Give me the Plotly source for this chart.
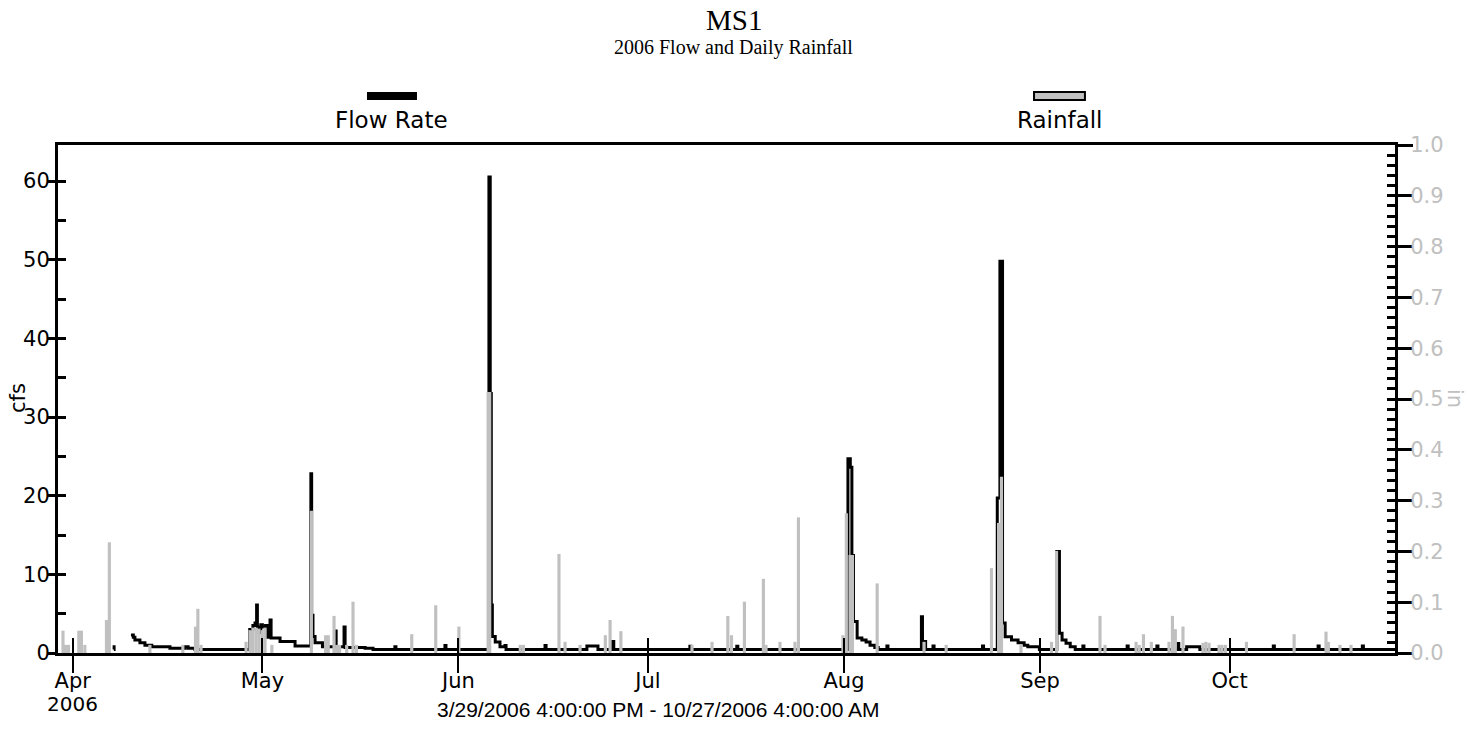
import plotly.graph_objects as go

# ---------------- data ----------------
flow_time = [
    "2006-04-07 12:00", "2006-04-07 13:00", "2006-04-07 15:00",
    "2006-04-10 05:00", "2006-04-10 14:00", "2006-04-10 20:00", "2006-04-11 15:00",
    "2006-04-12 10:00", "2006-04-13 12:00", "2006-04-16 09:00", "2006-04-18 18:00",
    "2006-04-19 06:00", "2006-04-20 08:00",
    "2006-04-29 00:00", "2006-04-29 12:00", "2006-04-29 20:00", "2006-04-30 02:00",
    "2006-04-30 05:00", "2006-04-30 12:00", "2006-04-30 18:00", "2006-05-01 00:00",
    "2006-05-01 12:00", "2006-05-01 20:00", "2006-05-02 05:00", "2006-05-02 09:00",
    "2006-05-03 19:00", "2006-05-06 04:00",
    "2006-05-08 16:00", "2006-05-08 19:00", "2006-05-09 00:00", "2006-05-09 08:00",
    "2006-05-10 12:00", "2006-05-12 12:00", "2006-05-12 16:00", "2006-05-13 22:00",
    "2006-05-14 02:00", "2006-05-17 06:00", "2006-05-18 12:00",
    "2006-05-21 23:00", "2006-05-22 03:00", "2006-05-29 21:00", "2006-05-30 01:00",
    "2006-06-05 20:00", "2006-06-06 01:00", "2006-06-06 05:00", "2006-06-06 09:00",
    "2006-06-06 20:00", "2006-06-07 14:00", "2006-06-08 09:00", "2006-06-08 13:00",
    "2006-06-14 17:00", "2006-06-14 21:00", "2006-06-21 08:00", "2006-06-23 02:00",
    "2006-06-25 07:00", "2006-06-25 14:00",
    "2006-07-07 15:00", "2006-07-07 19:00", "2006-07-15 01:00", "2006-07-15 05:00",
    "2006-08-01 15:00", "2006-08-02 00:00", "2006-08-02 06:00", "2006-08-02 12:00",
    "2006-08-03 02:00", "2006-08-03 20:00", "2006-08-04 12:00", "2006-08-05 03:00",
    "2006-08-05 21:00", "2006-08-06 10:00",
    "2006-08-07 19:00", "2006-08-07 23:00",
    "2006-08-13 06:00", "2006-08-13 10:00", "2006-08-13 22:00",
    "2006-08-15 02:00", "2006-08-15 06:00", "2006-08-22 22:00", "2006-08-23 02:00",
    "2006-08-25 06:00", "2006-08-25 16:00", "2006-08-26 02:00", "2006-08-26 12:00",
    "2006-08-27 12:00", "2006-08-28 13:00", "2006-08-29 12:00", "2006-08-30 02:00",
    "2006-08-31 22:00",
    "2006-09-03 16:00", "2006-09-04 02:00", "2006-09-04 12:00", "2006-09-05 03:00",
    "2006-09-05 19:00", "2006-09-06 14:00",
    "2006-09-07 19:00", "2006-09-07 23:00", "2006-09-14 19:00", "2006-09-14 23:00",
    "2006-09-19 12:00", "2006-09-19 16:00", "2006-09-22 19:00", "2006-09-22 23:00",
    "2006-09-24 05:00", "2006-09-26 07:00",
    "2006-10-07 22:00", "2006-10-08 02:00", "2006-10-15 00:00", "2006-10-15 04:00",
    "2006-10-22 00:00", "2006-10-22 04:00", "2006-10-27 04:00",
]
flow_cfs = [
    0.45, 1.0, None,
    2.3, 2.0, 1.65, 1.3,
    1.0, 0.8, 0.6, 0.8,
    0.6, 0.45,
    3.0, 3.5, 3.8, 6.1,
    3.3, 2.6, 3.6, 3.3,
    3.5, 2.0, 4.2, 1.9,
    1.45, 0.9,
    22.8, 4.8, 2.1, 1.3,
    0.8, 2.8, 0.8, 3.3,
    0.7, 0.6, 0.45,
    0.8, 0.45, 0.95, 0.45,
    60.5, 33.0, 6.1, 2.1,
    1.4, 0.8, 0.95, 0.45,
    0.95, 0.45, 0.9, 0.45,
    1.45, 0.45,
    0.85, 0.45, 0.85, 0.45,
    24.7, 23.6, 12.4, 4.0,
    1.9, 1.65, 1.4, 1.0,
    0.7, 0.45,
    0.9, 0.45,
    4.6, 1.45, 0.45,
    0.9, 0.45, 0.9, 0.45,
    19.7, 49.8, 3.8, 2.07,
    1.65, 1.3, 1.0, 0.8,
    0.45,
    12.9, 2.5, 1.65, 1.25,
    0.8, 0.45,
    0.9, 0.45, 0.9, 0.45,
    0.9, 0.45, 1.2, 0.45,
    0.8, 0.45,
    0.9, 0.45, 0.9, 0.45,
    0.9, 0.45, 0.45,
]

rain_time = [
    "2006-03-30 11:00", "2006-03-30 20:00", "2006-03-31 08:00",
    "2006-04-01 23:00", "2006-04-02 09:00", "2006-04-02 22:00",
    "2006-04-06 08:00", "2006-04-06 19:00", "2006-04-13 05:00", "2006-04-18 10:00",
    "2006-04-20 10:00", "2006-04-20 19:00", "2006-04-21 07:00",
    "2006-04-28 10:00", "2006-04-29 01:00", "2006-04-29 12:00", "2006-04-30 00:00",
    "2006-04-30 11:00", "2006-04-30 23:00", "2006-05-01 10:00", "2006-05-02 12:00",
    "2006-05-08 18:00", "2006-05-11 00:00", "2006-05-11 10:00", "2006-05-12 08:00",
    "2006-05-12 18:00", "2006-05-13 05:00", "2006-05-14 08:00", "2006-05-15 08:00",
    "2006-05-15 21:00", "2006-05-24 15:00", "2006-05-28 10:00", "2006-06-01 02:00",
    "2006-06-05 17:00", "2006-06-05 23:00", "2006-06-10 19:00", "2006-06-11 07:00",
    "2006-06-16 22:00", "2006-06-17 21:00", "2006-06-20 06:00", "2006-06-24 06:00",
    "2006-06-25 00:00", "2006-06-26 17:00",
    "2006-07-07 23:00", "2006-07-11 03:00", "2006-07-13 15:00", "2006-07-14 05:00",
    "2006-07-16 06:00", "2006-07-19 06:00", "2006-07-19 16:00", "2006-07-21 21:00",
    "2006-07-24 06:00", "2006-07-24 19:00", "2006-07-31 20:00", "2006-08-01 09:00",
    "2006-08-01 23:00", "2006-08-02 08:00", "2006-08-06 06:00", "2006-08-13 16:00",
    "2006-08-17 04:00", "2006-08-24 08:00", "2006-08-25 11:00", "2006-08-25 22:00",
    "2006-08-29 00:00", "2006-09-02 20:00", "2006-09-03 15:00", "2006-09-10 12:00",
    "2006-09-11 07:00", "2006-09-16 05:00", "2006-09-16 17:00", "2006-09-17 09:00",
    "2006-09-18 15:00", "2006-09-21 10:00", "2006-09-21 23:00", "2006-09-22 10:00",
    "2006-09-23 15:00", "2006-09-26 19:00", "2006-09-27 06:00", "2006-09-27 18:00",
    "2006-09-29 08:00", "2006-09-29 19:00", "2006-09-30 08:00", "2006-10-03 16:00",
    "2006-10-11 05:00", "2006-10-16 06:00", "2006-10-16 15:00", "2006-10-18 11:00",
    "2006-10-20 05:00",
]
rain_in = [
    0.044, 0.016, 0.016,
    0.044, 0.044, 0.016,
    0.065, 0.218, 0.016, 0.016,
    0.052, 0.087, 0.016,
    0.022, 0.045, 0.05, 0.05,
    0.048, 0.045, 0.05, 0.016,
    0.28, 0.035, 0.035, 0.073,
    0.016, 0.016, 0.016, 0.101,
    0.016, 0.037, 0.094, 0.052,
    0.514, 0.514, 0.016, 0.016,
    0.195, 0.022, 0.016, 0.035,
    0.065, 0.043,
    0.016, 0.022, 0.073, 0.035,
    0.101, 0.146, 0.016, 0.022,
    0.022, 0.267, 0.035, 0.275,
    0.193, 0.193, 0.137, 0.022,
    0.016, 0.167, 0.256, 0.347,
    0.016, 0.022, 0.201, 0.073,
    0.016, 0.022, 0.016, 0.037,
    0.022, 0.022, 0.073, 0.047,
    0.052, 0.02, 0.022, 0.02,
    0.016, 0.016, 0.016, 0.022,
    0.037, 0.042, 0.022, 0.016,
    0.016,
]

month_ticks = ["2006-04-01", "2006-05-01", "2006-06-01", "2006-07-01",
               "2006-08-01", "2006-09-01", "2006-10-01"]
month_labels = ["Apr", "May", "Jun", "Jul", "Aug", "Sep", "Oct"]
year_label = "2006"
x_range = ["2006-03-29 16:00", "2006-10-27 04:00"]
flow_range = [0, 64.58]
flow_ticks = [0, 10, 20, 30, 40, 50, 60]
rain_range = [0, 1.0]

# ---------------- figure ----------------
SANS = "DejaVu Sans, Verdana, sans-serif"
SANS2 = "Liberation Sans, Arial, sans-serif"
SERIF = "Liberation Serif, Times New Roman, serif"
GRAY = "#c0c0c0"
DAY_MS = 86400000

fig = go.Figure()
fig.add_trace(go.Scatter(x=flow_time, y=flow_cfs, mode="lines", line_shape="hv",
                         line=dict(color="black", width=3), name="Flow Rate",
                         connectgaps=False, xaxis="x", yaxis="y"))
fig.add_trace(go.Bar(x=rain_time, y=rain_in, width=0.5 * DAY_MS, name="Rainfall",
                     marker=dict(color=GRAY, line=dict(width=0)),
                     xaxis="x", yaxis="y2"))
# empty helper traces so the overlay axes (inside halves of crossing ticks) are drawn
fig.add_trace(go.Scatter(x=[], y=[], xaxis="x3", yaxis="y3", showlegend=False,
                         hoverinfo="skip"))
fig.add_trace(go.Scatter(x=[], y=[], xaxis="x3", yaxis="y4", showlegend=False,
                         hoverinfo="skip"))

tickfont = dict(family=SANS, size=21, color="black")

fig.update_layout(
    width=1468, height=729,
    margin=dict(l=58, r=73, t=145, b=76, autoexpand=False),
    paper_bgcolor="white", plot_bgcolor="white",
    showlegend=False,
    barmode="overlay",
    xaxis=dict(type="date", range=x_range, tickvals=month_ticks, ticktext=month_labels,
               ticks="outside", ticklen=17, tickwidth=2, tickcolor="black",
               ticklabelstandoff=-10,
               showline=True, linewidth=3, linecolor="black", mirror=True,
               showgrid=False, zeroline=False, tickfont=tickfont, anchor="y",
               automargin=False),
    xaxis3=dict(type="date", range=x_range, tickvals=month_ticks, overlaying="x",
                ticks="inside", ticklen=15, tickwidth=2, tickcolor="black",
                showticklabels=False, showline=False, showgrid=False,
                zeroline=False, anchor="y", automargin=False),
    yaxis=dict(range=flow_range, tickvals=flow_ticks,
               ticks="outside", ticklen=8, tickwidth=3, tickcolor="black",
               ticklabelstandoff=-7,
               showline=True, linewidth=3, linecolor="black",
               showgrid=False, zeroline=False, tickfont=tickfont, anchor="x",
               automargin=False),
    yaxis3=dict(range=flow_range, tick0=0, dtick=5, overlaying="y", side="left",
                ticks="inside", ticklen=8, tickwidth=3, tickcolor="black",
                showticklabels=False, showline=False, showgrid=False,
                zeroline=False, anchor="x", automargin=False),
    yaxis2=dict(range=rain_range, tick0=0, dtick=0.1, tickformat=".1f",
                overlaying="y", side="right", anchor="x",
                ticks="outside", ticklen=15, tickwidth=3, tickcolor="black",
                ticklabelstandoff=-7,
                showline=True, linewidth=3, linecolor="black",
                showgrid=False, zeroline=False, automargin=False,
                tickfont=dict(family=SANS, size=21, color=GRAY)),
    yaxis4=dict(range=rain_range, tick0=0, dtick=0.02, overlaying="y", side="right",
                anchor="x", ticks="inside", ticklen=8, tickwidth=3, tickcolor="black",
                showticklabels=False, showline=False, showgrid=False, zeroline=False,
                automargin=False),
)

annotations = [
    dict(text="MS1", x=0.5056, y=1.246, xref="paper", yref="paper",
         showarrow=False, xanchor="center", yanchor="middle",
         font=dict(family=SERIF, size=29, color="black")),
    dict(text="2006 Flow and Daily Rainfall", x=0.5056, y=1.191, xref="paper",
         yref="paper", showarrow=False, xanchor="center", yanchor="middle",
         font=dict(family=SERIF, size=20, color="black")),
    dict(text="Flow Rate", x=0.2498, y=1.049, xref="paper", yref="paper",
         showarrow=False, xanchor="center", yanchor="middle",
         font=dict(family=SANS, size=23, color="black")),
    dict(text="Rainfall", x=0.7494, y=1.049, xref="paper", yref="paper",
         showarrow=False, xanchor="center", yanchor="middle",
         font=dict(family=SANS, size=23, color="black")),
    dict(text="cfs", x=-0.0299, y=0.502, xref="paper", yref="paper", textangle=-90,
         showarrow=False, xanchor="center", yanchor="middle",
         font=dict(family=SANS, size=21, color="black")),
    dict(text="in", x=1.0449, y=0.502, xref="paper", yref="paper", textangle=90,
         showarrow=False, xanchor="center", yanchor="middle",
         font=dict(family=SANS, size=21, color=GRAY)),
    dict(text=year_label, x=month_ticks[0], y=-0.1, xref="x", yref="paper",
         showarrow=False, xanchor="center", yanchor="middle",
         font=dict(family=SANS, size=20, color="black")),
    dict(text="3/29/2006 4:00:00 PM - 10/27/2006 4:00:00 AM", x=0.4488, y=-0.112,
         xref="paper", yref="paper", showarrow=False, xanchor="center",
         yanchor="middle", font=dict(family=SANS2, size=21, color="black")),
]
fig.update_layout(annotations=annotations)

fig.update_layout(shapes=[
    dict(type="rect", xref="paper", yref="paper", x0=0.2311, x1=0.2685,
         y0=1.0886, y1=1.1043, fillcolor="black", line=dict(width=0)),
    dict(type="rect", xref="paper", yref="paper", x0=0.7300, x1=0.7681,
         y0=1.0886, y1=1.1043, fillcolor=GRAY, line=dict(color="black", width=2)),
])

fig.write_html("out.html")
